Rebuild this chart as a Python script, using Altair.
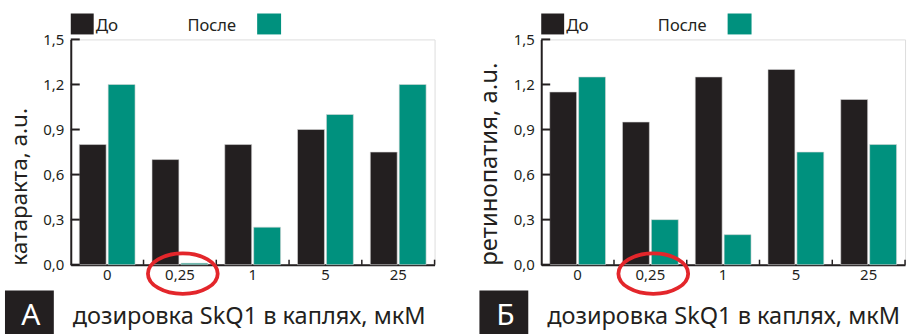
import altair as alt
import pandas as pd

# ---- data ----
doses = ["0", "0,25", "1", "5", "25"]
groups = ["До", "После"]
cataract_before = [0.8, 0.7, 0.8, 0.9, 0.75]
cataract_after = [1.2, 0.01, 0.25, 1.0, 1.2]
retino_before = [1.15, 0.95, 1.25, 1.3, 1.1]
retino_after = [1.25, 0.3, 0.2, 0.75, 0.8]
y_ticks = [0.0, 0.3, 0.6, 0.9, 1.2, 1.5]
y_titles = ["катаракта, а.u.", "ретинопатия, а.u."]
x_title = "дозировка SkQ1 в каплях, мкМ"
panel_letters = ["А", "Б"]
highlight = ["0,25"]

DARK = "#231f20"
TEAL = "#00917e"
RED = "#e3262b"
FONT = "Noto Sans"
W, H = 365, 226
ELLIPSE = "M-1,0A1,0.58,0,1,1,1,0A1,0.58,0,1,1,-1,0Z"

XAXIS = alt.Axis(title=None, labelAngle=0, ticks=False, grid=False,
                 domainWidth=2, domainColor=DARK, labelFont=FONT,
                 labelFontSize=15, labelColor=DARK, labelPadding=3)
YAXIS = alt.Axis(title=None, values=y_ticks,
                 labelExpr="replace(format(datum.value, '.1f'), '.', ',')",
                 ticks=False, grid=False, domainWidth=2, domainColor=DARK,
                 labelFont=FONT, labelFontSize=15, labelColor=DARK,
                 labelPadding=7)
XSCALE = alt.Scale(paddingInner=0, paddingOuter=0)
YSCALE = alt.Scale(domain=[0, 1.5], nice=False)


def one():
    return pd.DataFrame({"k": [0]})


def panel(before, after, ytitle, ysize, letter, box_left):
    df = pd.DataFrame({
        "dose": doses * 2,
        "group": [groups[0]] * len(doses) + [groups[1]] * len(doses),
        "value": before + after,
    })
    bars = alt.Chart(df).mark_bar(stroke="#d8d8d8", strokeWidth=0.6).encode(
        x=alt.X("dose:N", sort=doses, scale=XSCALE, axis=XAXIS),
        xOffset=alt.XOffset("group:N", sort=groups,
                            scale=alt.Scale(paddingInner=0.069, paddingOuter=0.293)),
        y=alt.Y("value:Q", scale=YSCALE, axis=YAXIS),
        color=alt.Color("group:N", scale=alt.Scale(domain=groups, range=[DARK, TEAL]),
                        legend=None),
    )
    yticks = alt.Chart(pd.DataFrame({"value": y_ticks})).mark_rule(
        color=DARK, strokeWidth=2).encode(
        y=alt.Y("value:Q", scale=YSCALE, axis=YAXIS), x=alt.value(0), x2=alt.value(9))
    xticks = alt.Chart(pd.DataFrame({"dose": doses})).mark_rule(
        color=DARK, strokeWidth=1.5).encode(
        x=alt.X("dose:N", sort=doses, scale=XSCALE, axis=XAXIS, bandPosition=1),
        y=alt.value(H), y2=alt.value(H - 5))
    ring = alt.Chart(pd.DataFrame({"dose": highlight})).mark_point(
        shape=ELLIPSE, filled=False, color=RED, strokeWidth=3.8, size=4900,
        opacity=1).encode(
        x=alt.X("dose:N", sort=doses, scale=XSCALE, axis=XAXIS, bandPosition=0.54),
        y=alt.value(H + 9))
    leg_a = alt.Chart(one()).mark_rect(color=DARK).encode(
        x=alt.value(0), x2=alt.value(23), y=alt.value(-26), y2=alt.value(-5))
    leg_b = alt.Chart(one()).mark_rect(color=TEAL).encode(
        x=alt.value(187), x2=alt.value(211), y=alt.value(-26), y2=alt.value(-5))
    leg_ta = alt.Chart(one()).mark_text(
        text=groups[0], align="left", baseline="alphabetic", font=FONT,
        fontSize=17, color=DARK).encode(x=alt.value(25), y=alt.value(-8))
    leg_tb = alt.Chart(one()).mark_text(
        text=groups[1], align="left", baseline="alphabetic", font=FONT,
        fontSize=16.5, color=DARK).encode(x=alt.value(117), y=alt.value(-8))
    ytxt = alt.Chart(one()).mark_text(
        text=ytitle, angle=270, align="left", baseline="alphabetic", font=FONT,
        fontSize=ysize, color=DARK).encode(x=alt.value(-44), y=alt.value(227))
    xtxt = alt.Chart(one()).mark_text(
        text=x_title, align="left", baseline="alphabetic", font=FONT,
        fontSize=23.6, color=DARK).encode(x=alt.value(box_left + 68), y=alt.value(286))
    box = alt.Chart(one()).mark_rect(color=DARK).encode(
        x=alt.value(box_left), x2=alt.value(box_left + 49),
        y=alt.value(252), y2=alt.value(296))
    ltr = alt.Chart(one()).mark_text(
        text=letter, align="center", baseline="alphabetic", font=FONT,
        fontSize=30, color="white").encode(
        x=alt.value(box_left + 26), y=alt.value(287))
    return alt.layer(bars, yticks, xticks, ring, leg_a, leg_b, leg_ta, leg_tb,
                     ytxt, xtxt, box, ltr).properties(width=W, height=H)


left = panel(cataract_before, cataract_after, y_titles[0], 22.5, panel_letters[0], -66)
right = panel(retino_before, retino_after, y_titles[1], 24, panel_letters[1], -62)

chart = alt.hconcat(left, right, spacing=107, bounds="flush").properties(
    padding={"left": 4, "top": 12, "right": 10, "bottom": 0}
).configure_view(stroke=None).configure(background="white")

chart.save("out.html", embed_options={"renderer": "svg", "actions": False})
